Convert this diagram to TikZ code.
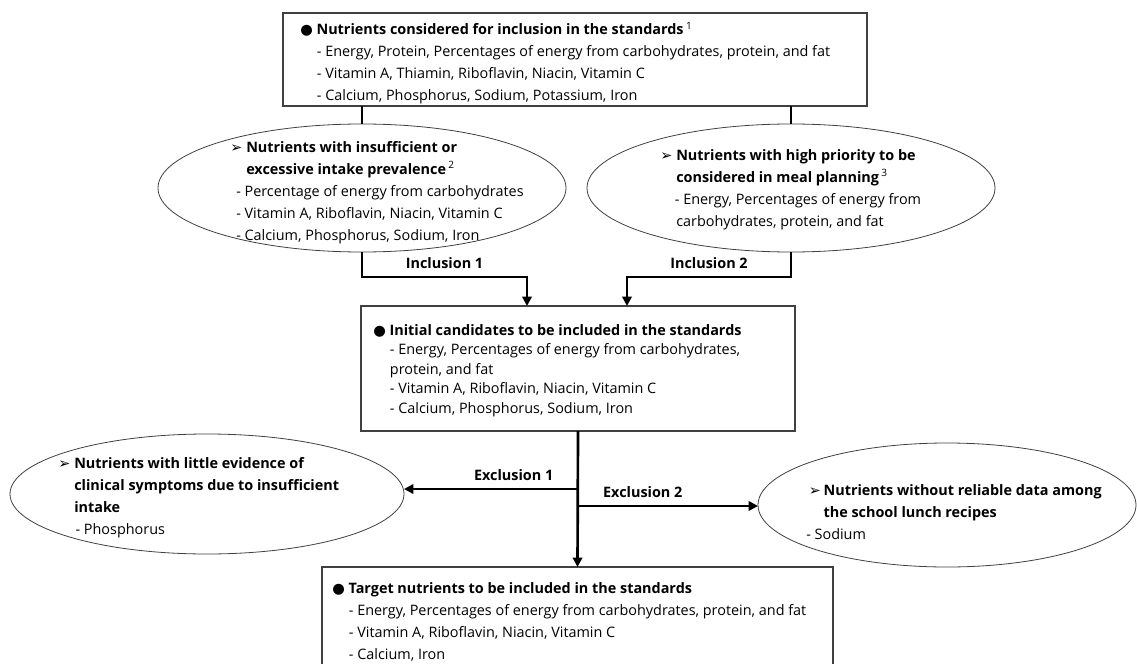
\documentclass[tikz,border=0pt]{standalone}
\usepackage{fontspec}
\setmainfont{Open Sans}
\newfontfamily\symbfont{DejaVu Sans}
\usetikzlibrary{shapes.geometric,arrows.meta,calc}

\newcommand{\bodysize}{\fontsize{10.8}{16.5}\selectfont}
\newcommand{\tightsize}{\fontsize{10.8}{14.6}\selectfont}
\newcommand{\dotmark}{{\symbfont\char"25CF}}
\newcommand{\pointer}{{\symbfont\char"27A2}}
\newcommand{\fnote}[1]{\,{\mdseries\textsuperscript{#1}}}
\newcommand{\subindent}{\hspace*{12.5pt}}

\tikzset{
  infobox/.style={draw=black!75, line width=0.8pt, rectangle, inner sep=0pt, outer sep=0pt},
  critbubble/.style={draw=black!75, line width=0.6pt, ellipse, inner sep=0pt, outer sep=0pt},
  boxtext/.style={anchor=north west, align=left, inner sep=0pt, font=\bodysize},
  flowline/.style={line width=2pt, black},
  flowarrow/.style={flowline, -{Triangle[length=7pt,width=7pt]}},
  steplabel/.style={font=\bodysize\bfseries, inner sep=1pt, above=4pt},
}

\begin{document}
\begin{tikzpicture}[x=0.75pt, y=-0.75pt]
  \clip (0,0) rectangle (1137,663);
  \fill[white] (0,0) rectangle (1137,663);

  % boxes
  \node[infobox, minimum width=438pt, minimum height=69.75pt] (considered) at (575,59.5) {};
  \node[infobox, minimum width=325.5pt, minimum height=93.75pt] (initial) at (578,368.5) {};
  \node[infobox, minimum width=383.25pt, minimum height=90pt, anchor=north] (target) at (577.5,567) {};

  % criteria
  \node[critbubble, minimum width=306pt, minimum height=96pt] (prevalence) at (362,188) {};
  \node[critbubble, minimum width=306pt, minimum height=96pt] (priority) at (791,188) {};
  \node[critbubble, minimum width=295.5pt, minimum height=90pt] (evidence) at (207,494) {};
  \node[critbubble, minimum width=283.5pt, minimum height=93pt] (reliable) at (947,505) {};

  % texts
  \node[boxtext] (consideredtext) at (300,22)
  {
    \dotmark\ \textbf{Nutrients considered for inclusion in the standards}\fnote{1}\\
    \subindent- Energy, Protein, Percentages of energy from carbohydrates, protein, and fat\\
    \subindent- Vitamin A, Thiamin, Riboflavin, Niacin, Vitamin C\\
    \subindent- Calcium, Phosphorus, Sodium, Potassium, Iron
  };
  \node[boxtext, font=\tightsize] (initialtext) at (373,324)
  {
    \dotmark\ \textbf{Initial candidates to be included in the standards}\\
    \subindent- Energy, Percentages of energy from carbohydrates,\\
    \subindent protein, and fat\\
    \subindent- Vitamin A, Riboflavin, Niacin, Vitamin C\\
    \subindent- Calcium, Phosphorus, Sodium, Iron
  };
  \node[boxtext] (targettext) at (332,582)
  {
    \dotmark\ \textbf{Target nutrients to be included in the standards}\\
    \subindent- Energy, Percentages of energy from carbohydrates, protein, and fat\\
    \subindent- Vitamin A, Riboflavin, Niacin, Vitamin C\\
    \subindent- Calcium, Iron
  };
  \node[boxtext] (prevalencetext) at (230,141)
  {
    \makebox[12pt][l]{\pointer}\textbf{Nutrients with insufficient or}\\
    \hspace*{12pt}\textbf{excessive intake prevalence}\fnote{2}\\
    \hspace*{4.5pt}- Percentage of energy from carbohydrates\\
    \hspace*{4.5pt}- Vitamin A, Riboflavin, Niacin, Vitamin C\\
    \hspace*{4.5pt}- Calcium, Phosphorus, Sodium, Iron
  };
  \node[boxtext] (prioritytext) at (660,149)
  {
    \makebox[12pt][l]{\pointer}\textbf{Nutrients with high priority to be}\\
    \hspace*{12pt}\textbf{considered in meal planning}\fnote{3}\\
    \hspace*{11pt}- Energy, Percentages of energy from\\
    \hspace*{12pt}carbohydrates, protein, and fat
  };
  \node[boxtext] (evidencetext) at (58,457)
  {
    \makebox[12pt][l]{\pointer}\textbf{Nutrients with little evidence of}\\
    \hspace*{12pt}\textbf{clinical symptoms due to insufficient}\\
    \hspace*{12pt}\textbf{intake}\\
    \hspace*{13pt}- Phosphorus
  };
  \node[boxtext] (reliabletext) at (806,484)
  {
    \hspace*{2pt}\makebox[11pt][l]{\pointer}\textbf{Nutrients without reliable data among}\\
    \hspace*{13pt}\textbf{the school lunch recipes}\\
    - Sodium
  };

  % connectors
  \draw[flowline] (considered.south -| prevalence.north) -- (prevalence.north);
  \draw[flowline] (considered.south -| priority.north) -- (priority.north);
  \draw[flowarrow] (prevalence.south) -- ++(0,25)
    -| node[steplabel, pos=0.25] (inclusion1) {Inclusion 1} ($(initial.north)+(-51,0)$);
  \draw[flowarrow] (priority.south) -- ++(0,25)
    -| node[steplabel, pos=0.25] (inclusion2) {Inclusion 2} ($(initial.north)+(49,0)$);

  \draw[flowarrow] (initial.south) -- (target.north);
  \coordinate (split1) at ($(initial.south)+(0,58)$);
  \coordinate (split2) at ($(initial.south)+(0,75)$);
  \draw[flowarrow] (split1) -- node[steplabel, pos=0.37] (exclusion1) {Exclusion 1} (split1 -| evidence.east);
  \draw[flowarrow] (split2) -- node[steplabel, pos=0.36] (exclusion2) {Exclusion 2} (split2 -| reliable.west);
\end{tikzpicture}
\end{document}
